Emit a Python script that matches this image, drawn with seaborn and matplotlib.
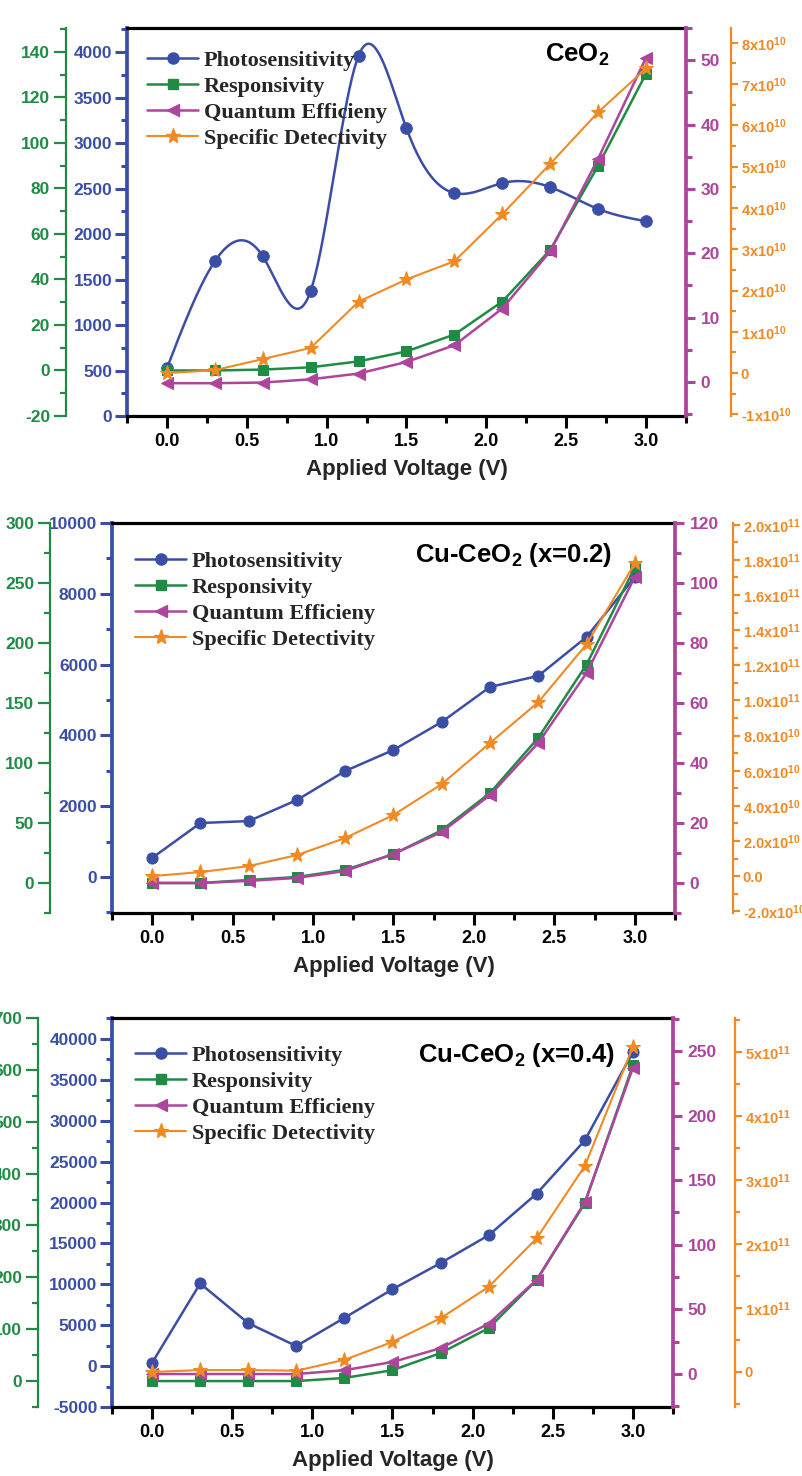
import numpy as np
import matplotlib
matplotlib.use('Agg')
import matplotlib.pyplot as plt
from matplotlib.lines import Line2D
from matplotlib.ticker import MultipleLocator, FuncFormatter, FormatStrFormatter
import seaborn as sns

# applied bias (V)
voltage = [0.0, 0.3, 0.6, 0.9, 1.2, 1.5, 1.8, 2.1, 2.4, 2.7, 3.0]

# CeO2
ceo2_photo = [525, 1700, 1755, 1375, 3960, 3160, 2450, 2560, 2515, 2275, 2140]
ceo2_resp = [0.0, 0.0, 0.4, 1.4, 4.0, 8.4, 15.8, 30.3, 53.0, 90.0, 130.5]
ceo2_qe = [-0.2, -0.2, -0.1, 0.4, 1.3, 3.1, 5.7, 11.4, 20.3, 34.7, 50.4]
ceo2_det = [0.0, 0.07e10, 0.34e10, 0.61e10, 1.73e10, 2.27e10, 2.71e10, 3.85e10, 5.07e10, 6.32e10, 7.38e10]

# Cu-CeO2 (x=0.2)
cu02_photo = [540, 1525, 1580, 2175, 2995, 3590, 4380, 5370, 5680, 6780, 8475]
cu02_resp = [0.0, 0.0, 2.5, 5.0, 11, 24, 44, 75, 121, 182, 263]
cu02_qe = [0.0, 0.0, 0.7, 1.7, 4.0, 9.7, 17, 29.3, 46.7, 70, 102]
cu02_det = [0.0, 0.23e10, 0.57e10, 1.2e10, 2.17e10, 3.48e10, 5.24e10, 7.58e10, 9.9e10, 1.32e11, 1.78e11]

# Cu-CeO2 (x=0.4)
cu04_photo = [400, 10100, 5250, 2450, 5900, 9400, 12600, 16000, 21100, 27600, 38400]
cu04_resp = [0.0, 0.0, 0.0, 0.0, 6, 21, 54, 102, 195, 343, 609]
cu04_qe = [0.0, 0.0, 0.0, 0.0, 3.0, 9.3, 20, 39, 73, 133, 237]
cu04_det = [0.0, 0.03e11, 0.03e11, 0.02e11, 0.19e11, 0.47e11, 0.84e11, 1.33e11, 2.09e11, 3.22e11, 5.08e11]

series_names = ['Photosensitivity', 'Responsivity', 'Quantum Efficieny', 'Specific Detectivity']

BLUE = '#3b4ea6'
GREEN = '#1f8b45'
MAGENTA = '#ad459c'
ORANGE = '#f08a24'

sns.set_style('ticks')
plt.rcParams['font.family'] = ['Liberation Sans', 'DejaVu Sans']
plt.rcParams['font.weight'] = 'bold'
plt.rcParams['mathtext.default'] = 'regular'
plt.rcParams['axes.unicode_minus'] = False

fig = plt.figure(figsize=(8.03, 14.76), dpi=100)
W, H = 803.0, 1476.0


def spline_curve(x, y, n=400):
    # natural cubic spline, only used to draw the smooth connecting line
    x = np.asarray(x, float)
    y = np.asarray(y, float)
    h = np.diff(x)
    m = len(x)
    A = np.zeros((m, m))
    b = np.zeros(m)
    A[0, 0] = A[-1, -1] = 1
    for i in range(1, m - 1):
        A[i, i - 1] = h[i - 1]
        A[i, i] = 2 * (h[i - 1] + h[i])
        A[i, i + 1] = h[i]
        b[i] = 3 * ((y[i + 1] - y[i]) / h[i] - (y[i] - y[i - 1]) / h[i - 1])
    c = np.linalg.solve(A, b)
    bb = (y[1:] - y[:-1]) / h - h * (2 * c[:-1] + c[1:]) / 3
    d = (c[1:] - c[:-1]) / (3 * h)
    xs = np.linspace(x[0], x[-1], n)
    idx = np.clip(np.searchsorted(x, xs) - 1, 0, m - 2)
    t = xs - x[idx]
    ys = y[idx] + bb[idx] * t + c[idx] * t ** 2 + d[idx] * t ** 3
    return xs, ys


def det_formatter(kind):
    def f(v, pos):
        if abs(v) < 1e6:
            return '0.0' if kind == 'dec' else '0'
        if kind == 'e10':
            return '%dx10$^{10}$' % round(v / 1e10)
        if kind == 'e11':
            return '%dx10$^{11}$' % round(v / 1e11)
        if abs(v) < 0.99e11:
            return '%.1fx10$^{10}$' % (v / 1e10)
        return '%.1fx10$^{11}$' % (v / 1e11)
    return FuncFormatter(f)


def px_rect(left, top, right, bottom):
    return [left / W, (H - bottom) / H, (right - left) / W, (bottom - top) / H]


def draw_panel(rect, photo, resp, qe, det, blue_lim, blue_step, green_lim, green_step,
               mag_lim, mag_step, det_lim, det_step, det_kind, green_pos, det_pos,
               title, title_xy, legend_xy, smooth=False):
    ax = fig.add_axes(rect)
    ax_g = ax.twinx()
    ax_m = ax.twinx()
    ax_o = ax.twinx()

    # photosensitivity on the main (blue) axis
    if smooth:
        xs, ys = spline_curve(voltage, photo)
        ax.plot(xs, ys, color=BLUE, lw=1.8)
        sns.scatterplot(x=voltage, y=photo, ax=ax, color=BLUE, marker='o', s=70,
                        edgecolor=BLUE, zorder=3)
    else:
        sns.lineplot(x=voltage, y=photo, ax=ax, color=BLUE, lw=1.8, marker='o',
                     markersize=8, markeredgecolor=BLUE)
    sns.lineplot(x=voltage, y=resp, ax=ax_g, color=GREEN, lw=1.8, marker='s',
                 markersize=7, markeredgecolor=GREEN)
    sns.lineplot(x=voltage, y=qe, ax=ax_m, color=MAGENTA, lw=1.8, marker='<',
                 markersize=9, markeredgecolor=MAGENTA)
    sns.lineplot(x=voltage, y=det, ax=ax_o, color=ORANGE, lw=1.5, marker='*',
                 markersize=11, markeredgecolor=ORANGE)

    ax.set_xlim(-0.25, 3.25)
    ax.xaxis.set_major_locator(MultipleLocator(0.5))
    ax.xaxis.set_minor_locator(MultipleLocator(0.25))
    ax.xaxis.set_major_formatter(FormatStrFormatter('%.1f'))
    ax.set_xlabel('Applied Voltage (V)', fontsize=16, fontweight='bold', labelpad=6)
    ax.tick_params(axis='x', which='major', direction='out', length=8.5, width=2.2,
                   colors='black', labelsize=13, pad=4)
    ax.tick_params(axis='x', which='minor', direction='out', length=5, width=2.2, colors='black')

    for a, lim, step, col in [(ax, blue_lim, blue_step, BLUE), (ax_g, green_lim, green_step, GREEN),
                              (ax_m, mag_lim, mag_step, MAGENTA), (ax_o, det_lim, det_step, ORANGE)]:
        a.set_ylim(*lim)
        a.yaxis.set_major_locator(MultipleLocator(step))
        a.yaxis.set_minor_locator(MultipleLocator(step / 2))
        a.set_ylabel('')
        a.tick_params(axis='y', which='major', direction='out', length=8.5, width=2.2,
                      colors=col, labelsize=12.5, pad=2)
        a.tick_params(axis='y', which='minor', direction='out', length=4.5, width=2.2, colors=col)
        for s in a.spines.values():
            s.set_visible(False)

    ax.spines['left'].set_visible(True)
    ax.spines['left'].set_color(BLUE)
    ax.spines['left'].set_linewidth(2.7)
    for s in ['top', 'bottom']:
        ax.spines[s].set_visible(True)
        ax.spines[s].set_color('black')
        ax.spines[s].set_linewidth(2.3)

    ax_g.yaxis.tick_left()
    ax_g.spines['left'].set_visible(True)
    ax_g.spines['left'].set_position(('axes', green_pos))
    ax_g.spines['left'].set_color(GREEN)
    ax_g.spines['left'].set_linewidth(1.6)
    ax_g.tick_params(axis='y', which='both', width=1.6, pad=3)
    ax_g.yaxis.set_major_formatter(FormatStrFormatter('%d'))

    ax_m.spines['right'].set_visible(True)
    ax_m.spines['right'].set_color(MAGENTA)
    ax_m.spines['right'].set_linewidth(2.7)
    ax_m.tick_params(axis='y', which='major', length=6.5, pad=4)
    ax_m.yaxis.set_major_formatter(FormatStrFormatter('%d'))

    ax_o.spines['right'].set_visible(True)
    ax_o.spines['right'].set_position(('axes', det_pos))
    ax_o.spines['right'].set_color(ORANGE)
    ax_o.spines['right'].set_linewidth(1.6)
    ax_o.tick_params(axis='y', which='major', length=5, width=1.6, labelsize=10.5, pad=2)
    ax_o.tick_params(axis='y', which='minor', length=3.5, width=1.6)
    ax_o.yaxis.set_major_formatter(det_formatter(det_kind))

    ax.yaxis.set_major_formatter(FormatStrFormatter('%d'))

    handles = [
        Line2D([], [], color=BLUE, lw=1.8, marker='o', markersize=8),
        Line2D([], [], color=GREEN, lw=1.8, marker='s', markersize=7),
        Line2D([], [], color=MAGENTA, lw=1.8, marker='<', markersize=9),
        Line2D([], [], color=ORANGE, lw=1.5, marker='*', markersize=11),
    ]
    ax_o.legend(handles, series_names, loc='upper left', bbox_to_anchor=legend_xy,
                frameon=False, prop={'family': 'Liberation Serif', 'weight': 'bold', 'size': 16},
                handlelength=2.3, handletextpad=0.25, labelspacing=0.25,
                borderpad=0, borderaxespad=0)
    ax_o.text(title_xy[0], title_xy[1], title, transform=ax.transAxes, fontsize=18.5,
              fontweight='bold', ha='left', va='baseline', color='black')


draw_panel(px_rect(127, 28, 686, 416), ceo2_photo, ceo2_resp, ceo2_qe, ceo2_det,
           (0, 4264), 500, (-20, 150.5), 20, (-5.3, 55), 10, (-1.04e10, 8.36e10), 1e10,
           'e10', -0.109, 1.0805, 'CeO$_2$', (0.748, 0.912), (0.036, 0.943), smooth=True)

draw_panel(px_rect(112, 523, 675, 913), cu02_photo, cu02_resp, cu02_qe, cu02_det,
           (-1017, 10000), 2000, (-25, 300), 50, (-10, 120), 20, (-2.1e10, 2.01e11), 2e10,
           'dec', -0.110, 1.103, 'Cu-CeO$_2$ (x=0.2)', (0.538, 0.900), (0.041, 0.928))

draw_panel(px_rect(112, 1018, 673, 1407), cu04_photo, cu04_resp, cu04_qe, cu04_det,
           (-5000, 42560), 5000, (-50, 700), 100, (-25.5, 275.5), 50, (-0.547e11, 5.53e11), 1e11,
           'e11', -0.132, 1.1105, 'Cu-CeO$_2$ (x=0.4)', (0.545, 0.887), (0.041, 0.930))

fig.savefig('out.png', dpi=100, facecolor='white')
